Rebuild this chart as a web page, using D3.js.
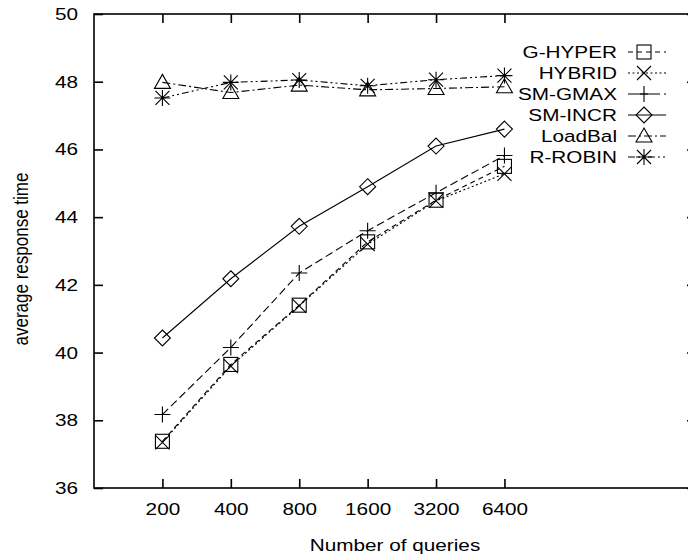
<!DOCTYPE html>
<html><head><meta charset="utf-8">
<script src="https://cdn.jsdelivr.net/npm/d3@7/dist/d3.min.js"></script>
<style>body{margin:0;background:#fff}svg{display:block}text{font-family:"Liberation Sans",Arial,sans-serif;fill:#000}</style>
</head><body><svg id="c" width="688" height="560"></svg>
<script>
const categories = ["200","400","800","1600","3200","6400"];
const yTicks = [36,38,40,42,44,46,48,50];
const seriesNames = ["G-HYPER","HYBRID","SM-GMAX","SM-INCR","LoadBal","R-ROBIN"];
const gHyper = [37.38,39.65,41.40,43.27,44.50,45.50];
const hybrid = [37.35,39.60,41.38,43.20,44.48,45.28];
const smGmax = [38.17,40.15,42.35,43.60,44.72,45.82];
const smIncr = [40.43,42.18,43.73,44.90,46.10,46.60];
const loadBal = [47.98,47.68,47.90,47.76,47.80,47.85];
const rRobin = [47.52,47.98,48.05,47.88,48.06,48.18];

const seriesValues = [gHyper,hybrid,smGmax,smIncr,loadBal,rRobin];
const dashes = ["5,4","2,2.5","8,4",null,"8,3,2,3","7,3,2,3,2,3"];
const markers = ["square","cross","plus","diamond","triangle","star"];

const FS = 17, SX = 1.22;
const svg = d3.select("#c");
const L=94, R=696, T=14, B=488, tick=9;
const x = d3.scaleLinear().domain([-1,7.8]).range([L,R]);
const y = d3.scaleLinear().domain([36,50]).range([B,T]);

function stretch(sel, ax, ay, extra){
  sel.attr("transform", `translate(${ax},${ay}) scale(${SX},1) ${extra||""} translate(${-ax},${-ay})`);
}

svg.append("rect").attr("x",L).attr("y",T).attr("width",R-L).attr("height",B-T)
  .attr("fill","none").attr("stroke","#000").attr("stroke-width",1.6);

const idx = d3.range(categories.length);
svg.append("g").attr("transform",`translate(0,${B})`)
  .call(d3.axisBottom(x).tickValues(idx).tickFormat(i=>categories[i]).tickSizeInner(-tick).tickSizeOuter(0).tickPadding(15));
svg.append("g").attr("transform",`translate(0,${T})`)
  .call(d3.axisTop(x).tickValues(idx).tickFormat("").tickSizeInner(-tick).tickSizeOuter(0));
svg.append("g").attr("transform",`translate(${L},0)`)
  .call(d3.axisLeft(y).tickValues(yTicks).tickSizeInner(-tick).tickSizeOuter(0).tickPadding(16));
svg.append("g").attr("transform",`translate(${R},0)`)
  .call(d3.axisRight(y).tickValues(yTicks).tickFormat("").tickSizeInner(-tick).tickSizeOuter(0));
svg.selectAll(".domain").remove();
svg.selectAll(".tick line").attr("stroke","#000").attr("stroke-width",1.6);
svg.selectAll(".tick text").style("font-size",FS+"px").attr("fill","#000").each(function(){
  const t=d3.select(this); const ax=+t.attr("x")||0; const anchor=d3.select(this.parentNode).attr("text-anchor");
  // scale horizontally around the anchor point
  t.attr("transform",`translate(${ax},0) scale(${SX},1) translate(${-ax},0)`);
});

const xl = svg.append("text").attr("x",(L+R)/2).attr("y",551).attr("text-anchor","middle")
  .style("font-size",FS+"px").text("Number of queries");
stretch(xl,(L+R)/2,551);
svg.append("text").attr("text-anchor","middle").style("font-size",FS+"px")
  .attr("transform",`translate(28,${(T+B)/2+8}) scale(${SX},1) rotate(-90)`).text("average response time");

function marker(g,type,cx,cy){
  const s=7;
  if(type==="square") g.append("rect").attr("x",cx-s).attr("y",cy-s).attr("width",2*s).attr("height",2*s);
  else if(type==="cross") g.append("path").attr("d",`M${cx-s},${cy-s}L${cx+s},${cy+s}M${cx-s},${cy+s}L${cx+s},${cy-s}`);
  else if(type==="plus") g.append("path").attr("d",`M${cx-s-1},${cy}L${cx+s+1},${cy}M${cx},${cy-s-1}L${cx},${cy+s+1}`);
  else if(type==="diamond") g.append("path").attr("d",`M${cx},${cy-s-1}L${cx+s+1},${cy}L${cx},${cy+s+1}L${cx-s-1},${cy}Z`);
  else if(type==="triangle") g.append("path").attr("d",`M${cx},${cy-s-1}L${cx+s+1},${cy+s-1}L${cx-s-1},${cy+s-1}Z`);
  else if(type==="star") g.append("path").attr("d",`M${cx-s-1},${cy}L${cx+s+1},${cy}M${cx},${cy-s-1}L${cx},${cy+s+1}M${cx-s},${cy-s}L${cx+s},${cy+s}M${cx-s},${cy+s}L${cx+s},${cy-s}`);
}

const line = d3.line().x((d,i)=>x(i)).y(d=>y(d));
seriesValues.forEach((vals,k)=>{
  const g = svg.append("g").attr("fill","none").attr("stroke","#000").attr("stroke-width",1.1);
  g.append("path").datum(vals).attr("d",line).attr("stroke-dasharray",dashes[k]);
  const mg = svg.append("g").attr("fill","none").attr("stroke","#000").attr("stroke-width",1.1);
  vals.forEach((v,i)=>marker(mg,markers[k],x(i),y(v)));
  const ly = 52 + k*21;
  const t = svg.append("text").attr("x",617).attr("y",ly+6).attr("text-anchor","end").style("font-size",FS+"px").text(seriesNames[k]);
  stretch(t,617,ly+6);
  g.append("line").attr("x1",628).attr("x2",666).attr("y1",ly).attr("y2",ly).attr("stroke-dasharray",dashes[k]);
  marker(mg,markers[k],644,ly);
});
</script></body></html>
